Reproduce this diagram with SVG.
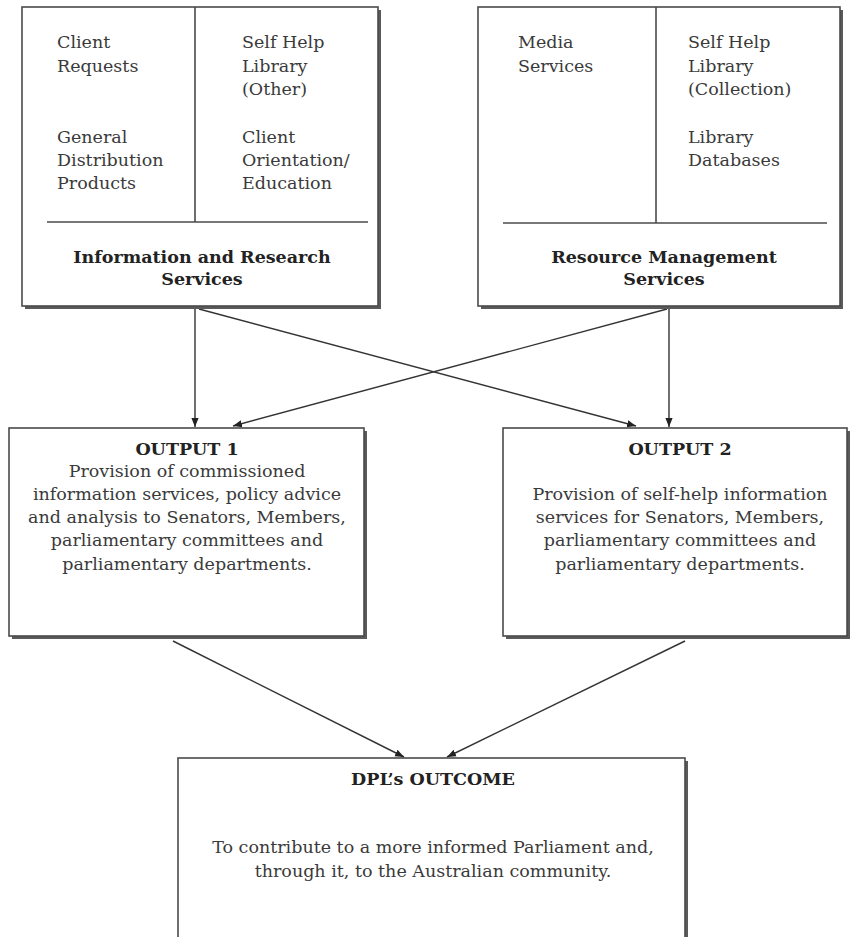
<svg xmlns="http://www.w3.org/2000/svg" width="852" height="937" viewBox="0 0 852 937">
<defs>
<style>
.shadow{fill:#5a5a5a;}
.box{fill:#ffffff;stroke:#4a4a4a;stroke-width:1.6;}
.div{stroke:#4a4a4a;stroke-width:1.6;fill:none;}
.t{font-family:"DejaVu Serif","Liberation Serif",serif;font-size:17.5px;fill:#3a3a3a;}
.c{text-anchor:middle;}
.b{font-weight:bold;fill:#222;}
.conn{stroke:#333;stroke-width:1.4;fill:none;marker-end:url(#ah);}
</style>
<marker id="ah" viewBox="0 0 10 10" refX="10" refY="5" markerWidth="9" markerHeight="9" markerUnits="userSpaceOnUse" orient="auto">
<path d="M0,1 L10,5 L0,9 z" fill="#222"/>
</marker>
</defs>
<rect width="852" height="937" fill="#ffffff"/>

<g id="connectors">
<line class="conn" x1="195" y1="309" x2="195" y2="427"/>
<line class="conn" x1="199" y1="309" x2="636" y2="426"/>
<line class="conn" x1="667" y1="309" x2="233" y2="426"/>
<line class="conn" x1="669" y1="309" x2="669" y2="427"/>
<line class="conn" x1="173" y1="641" x2="404" y2="757"/>
<line class="conn" x1="685" y1="641" x2="447" y2="757"/>
</g>

<g id="info-research">
<rect class="shadow" x="25" y="10" width="356" height="299"/>
<rect class="box" x="22" y="7" width="356" height="299"/>
<line class="div" x1="195" y1="7" x2="195" y2="222"/>
<line class="div" x1="47" y1="222" x2="368" y2="222"/>
<text class="t" x="57" y="48">Client</text>
<text class="t" x="57" y="72">Requests</text>
<text class="t" x="57" y="143">General</text>
<text class="t" x="57" y="166">Distribution</text>
<text class="t" x="57" y="189">Products</text>
<text class="t" x="242" y="48">Self Help</text>
<text class="t" x="242" y="72">Library</text>
<text class="t" x="242" y="95">(Other)</text>
<text class="t" x="242" y="143">Client</text>
<text class="t" x="242" y="166">Orientation/</text>
<text class="t" x="242" y="189">Education</text>
<text class="t c b" x="202" y="263">Information and Research</text>
<text class="t c b" x="202" y="285">Services</text>
</g>

<g id="resource-mgmt">
<rect class="shadow" x="481" y="10" width="362" height="299"/>
<rect class="box" x="478" y="7" width="362" height="299"/>
<line class="div" x1="656" y1="7" x2="656" y2="223"/>
<line class="div" x1="503" y1="223" x2="827" y2="223"/>
<text class="t" x="518" y="48">Media</text>
<text class="t" x="518" y="72">Services</text>
<text class="t" x="688" y="48">Self Help</text>
<text class="t" x="688" y="72">Library</text>
<text class="t" x="688" y="95">(Collection)</text>
<text class="t" x="688" y="143">Library</text>
<text class="t" x="688" y="166">Databases</text>
<text class="t c b" x="664" y="263">Resource Management</text>
<text class="t c b" x="664" y="285">Services</text>
</g>

<g id="output1">
<rect class="shadow" x="12" y="431" width="355" height="208"/>
<rect class="box" x="9" y="428" width="355" height="208"/>
<text class="t c b" x="187" y="455">OUTPUT 1</text>
<text class="t c" x="187" y="477">Provision of commissioned</text>
<text class="t c" x="187" y="500">information services, policy advice</text>
<text class="t c" x="187" y="523">and analysis to Senators, Members,</text>
<text class="t c" x="187" y="546">parliamentary committees and</text>
<text class="t c" x="187" y="570">parliamentary departments.</text>
</g>

<g id="output2">
<rect class="shadow" x="506" y="431" width="344" height="208"/>
<rect class="box" x="503" y="428" width="344" height="208"/>
<text class="t c b" x="680" y="455">OUTPUT 2</text>
<text class="t c" x="680" y="500">Provision of self-help information</text>
<text class="t c" x="680" y="523">services for Senators, Members,</text>
<text class="t c" x="680" y="546">parliamentary committees and</text>
<text class="t c" x="680" y="570">parliamentary departments.</text>
</g>

<g id="outcome">
<rect class="shadow" x="181" y="761" width="507" height="200"/>
<rect class="box" x="178" y="758" width="507" height="200"/>
<text class="t c b" x="433" y="785">DPL’s OUTCOME</text>
<text class="t c" x="433" y="853">To contribute to a more informed Parliament and,</text>
<text class="t c" x="433" y="877">through it, to the Australian community.</text>
</g>
</svg>
